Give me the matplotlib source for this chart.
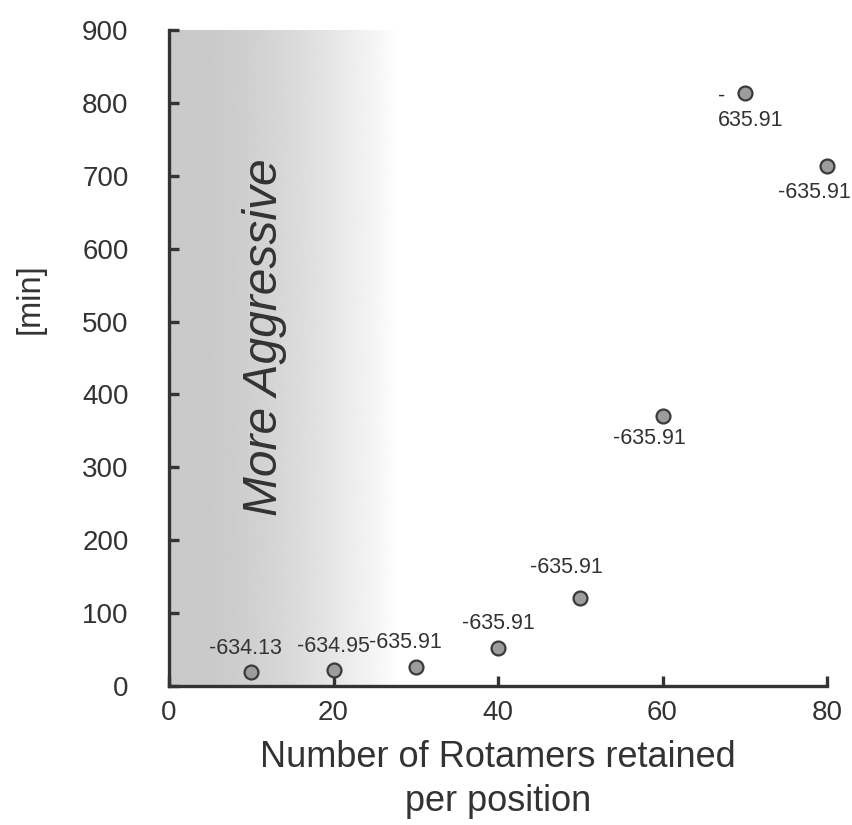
import numpy as np
import matplotlib
matplotlib.use("Agg")
import matplotlib.pyplot as plt

plt.rcParams["font.family"] = ["Liberation Sans", "DejaVu Sans"]

# Rotamers retained per position vs. run time [min], annotated with final energy
rotamers = [10, 20, 30, 40, 50, 60, 70, 80]
minutes = [19, 22, 26, 52, 121, 370, 813, 713]
energy_labels = ["-634.13", "-634.95", "-635.91", "-635.91",
                 "-635.91", "-635.91", "-\n635.91", "-635.91"]

x_ticks = [0, 20, 40, 60, 80]
y_ticks = [0, 100, 200, 300, 400, 500, 600, 700, 800, 900]

# label placement (pixel offsets from each point, alignment)
label_offsets = [(-6, 24), (0, 23), (-10, 25), (0, 25),
                 (-14, 30), (-13, -22), (-27, -15), (-13, -26)]
label_align = ["center"] * 6 + ["left", "center"]

ink = "#333333"

fig = plt.figure(figsize=(8.53, 8.25), dpi=100)
ax = fig.add_axes([169 / 853, 1 - 686 / 825, (827 - 169) / 853, (686 - 30) / 825])

ax.set_xlim(0, 80)
ax.set_ylim(0, 900)

# shaded band on the left, fading to white
gx = np.linspace(0, 28, 400)
t = np.clip((gx - 4) / 24, 0, 1)
vals = 0.79 + 0.21 * t ** 1.5
ax.imshow(vals[np.newaxis, :], extent=[0, 28, 0, 900], aspect="auto",
          cmap="gray", vmin=0, vmax=1, zorder=0, interpolation="bilinear")

ax.text(11.6, 478, "More Aggressive", rotation=90, fontsize=34.5,
        style="italic", color=ink, ha="center", va="center", zorder=1)

ax.scatter(rotamers, minutes, s=100, facecolor="#9c9c9c",
           edgecolor="#3a3a3a", linewidth=1.6, zorder=3, clip_on=False)

for xv, yv, lab, (dx, dy), ha in zip(rotamers, minutes, energy_labels,
                                     label_offsets, label_align):
    ax.annotate(lab, (xv, yv), xytext=(dx * 0.72, dy * 0.72),
                textcoords="offset points", ha=ha, va="center",
                fontsize=15.5, color=ink, linespacing=1.25,
                multialignment="left", zorder=4)

for side in ("top", "right"):
    ax.spines[side].set_visible(False)
for side in ("left", "bottom"):
    ax.spines[side].set_linewidth(2.4)
    ax.spines[side].set_color(ink)
    ax.spines[side].set_zorder(5)

ax.set_xticks(x_ticks)
ax.set_yticks(y_ticks)
ax.tick_params(axis="both", direction="in", length=7, width=2.4,
               color=ink, labelsize=20, labelcolor=ink)
ax.tick_params(axis="y", pad=29)
ax.tick_params(axis="x", pad=10)

ax.set_xlabel("Number of Rotamers retained\nper position", fontsize=26,
              color=ink, labelpad=10, linespacing=1.35)
fig.text(30 / 853, 1 - 299 / 825, "[min]", rotation=90, fontsize=23.5,
         color=ink, ha="center", va="center")

fig.savefig("out.png", dpi=100)
